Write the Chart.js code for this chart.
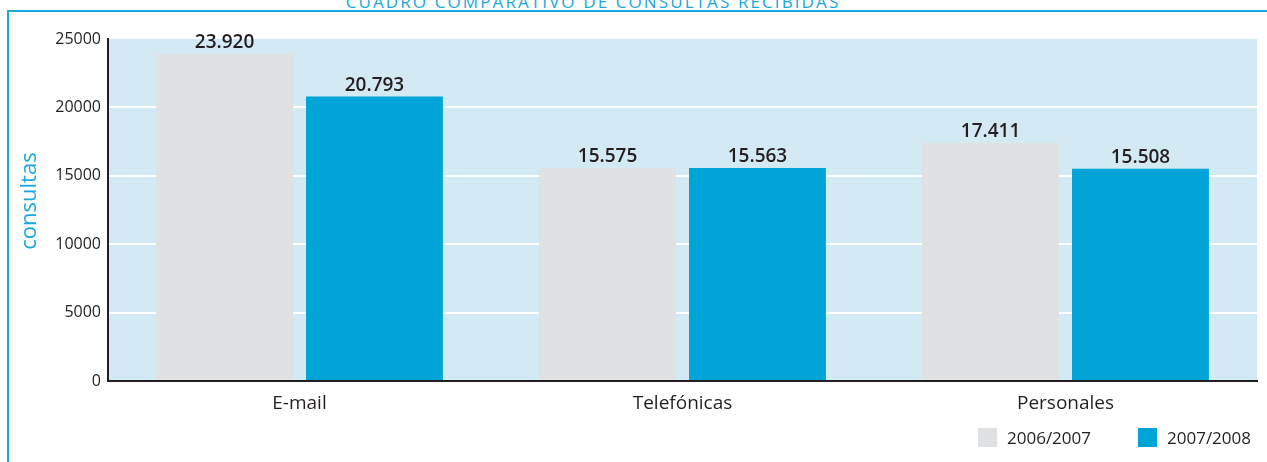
<!DOCTYPE html>
<html lang="es">
<head>
<meta charset="utf-8">
<script src="https://cdn.jsdelivr.net/npm/chart.js@4.4.1/dist/chart.umd.min.js"></script>
<style>
  html, body { margin: 0; padding: 0; background: #fff; }
  #wrap { position: relative; width: 1267px; height: 462px; overflow: hidden; font-family: "Open Sans", sans-serif; }
  #frame-top { position: absolute; left: 7px; top: 10px; width: 1260px; height: 2px; background: #1aa7dd; }
  #frame-left { position: absolute; left: 7px; top: 10px; width: 2px; height: 452px; background: #1aa7dd; }
  #title { position: absolute; left: 0; width: 1186px; top: -7px; line-height: 17px; font-size: 17px; letter-spacing: 2.1px;
           text-align: center; color: #1aa7dd; white-space: nowrap; }
  #chart { position: absolute; left: 0; top: 0; }
  .leg { position: absolute; top: 428px; height: 19px; display: flex; align-items: center; font-size: 17px; color: #231f20; white-space: nowrap; }
  .leg span.box { display: inline-block; width: 19px; height: 19px; margin-right: 10px; }
</style>
</head>
<body>
<div id="wrap">
  <div id="title">CUADRO COMPARATIVO DE CONSULTAS RECIBIDAS</div>
  <div id="frame-top"></div>
  <div id="frame-left"></div>
  <canvas id="chart" width="1267" height="462"></canvas>
  <div id="legend"></div>
</div>
<script>
// datos del cuadro
const categories = ['E-mail', 'Telefónicas', 'Personales'];
const periods = ['2006/2007', '2007/2008'];
const consultas0607 = [23920, 15575, 17411];
const consultas0708 = [20793, 15563, 15508];
const yTicks = [0, 5000, 10000, 15000, 20000, 25000];
const axisTitle = 'consultas';

const barColors = ['#e0e1e3', '#00a4d7'];
const ink = '#231f20';
const family = '"Open Sans", sans-serif';

// 23920 -> 23.920
function fmt(v) {
  return String(v).replace(/\B(?=(\d{3})+(?!\d))/g, '.');
}

// fondo azul claro del area
const plotBg = {
  id: 'plotBg',
  beforeDraw(chart) {
    const { ctx, chartArea: a } = chart;
    ctx.save();
    ctx.fillStyle = '#d3eaf4';
    ctx.fillRect(a.left, a.top, a.right - a.left, a.bottom - a.top);
    ctx.restore();
  }
};

// valores encima de las barras
const valueLabels = {
  id: 'valueLabels',
  afterDatasetsDraw(chart) {
    const ctx = chart.ctx;
    ctx.save();
    ctx.font = '600 19px ' + family;
    ctx.fillStyle = ink;
    ctx.textAlign = 'center';
    ctx.textBaseline = 'alphabetic';
    chart.data.datasets.forEach((ds, i) => {
      chart.getDatasetMeta(i).data.forEach((bar, j) => {
        ctx.fillText(fmt(ds.data[j]), bar.x, bar.y - 6);
      });
    });
    ctx.restore();
  }
};

// titulo vertical del eje y
const yTitle = {
  id: 'yTitle',
  afterDraw(chart) {
    const ctx = chart.ctx;
    ctx.save();
    ctx.translate(30, 201);
    ctx.rotate(-Math.PI / 2);
    ctx.font = '22px ' + family;
    ctx.fillStyle = '#1aa7dd';
    ctx.textAlign = 'center';
    ctx.textBaseline = 'middle';
    ctx.fillText(axisTitle, 0, 0);
    ctx.restore();
  }
};

const chart = new Chart(document.getElementById('chart'), {
  type: 'bar',
  data: {
    labels: categories,
    datasets: [
      { label: periods[0], data: consultas0607, backgroundColor: barColors[0] },
      { label: periods[1], data: consultas0708, backgroundColor: barColors[1] }
    ]
  },
  options: {
    responsive: false,
    animation: false,
    devicePixelRatio: 1,
    layout: { padding: { left: 0, top: 39, right: 10, bottom: 0 } },
    datasets: { bar: { barPercentage: 0.913, categoryPercentage: 0.783 } },
    plugins: { legend: { display: false }, tooltip: { enabled: false } },
    scales: {
      x: {
        afterFit: s => { s.height = 81; },
        border: { color: ink, width: 2 },
        grid: { display: false, drawTicks: false },
        ticks: { padding: 11, color: ink, font: { size: 19, family } }
      },
      y: {
        min: 0,
        max: 25000,
        afterFit: s => { s.width = 108; },
        afterBuildTicks: s => { s.ticks = yTicks.map(v => ({ value: v })); },
        border: { color: ink, width: 2 },
        grid: {
          color: c => (c.tick && c.tick.value === 25000) ? 'rgba(0,0,0,0)' : '#ffffff',
          lineWidth: 2,
          drawTicks: false
        },
        ticks: { padding: 7, color: ink, font: { size: 16, family }, callback: v => String(v) }
      }
    }
  },
  plugins: [plotBg, valueLabels, yTitle]
});

// leyenda abajo a la derecha
const legend = document.getElementById('legend');
chart.data.datasets.forEach((ds, i) => {
  const item = document.createElement('div');
  item.className = 'leg';
  item.style.left = (978 + i * 160) + 'px';
  const box = document.createElement('span');
  box.className = 'box';
  box.style.background = ds.backgroundColor;
  item.appendChild(box);
  item.appendChild(document.createTextNode(ds.label));
  legend.appendChild(item);
});
</script>
</body>
</html>
